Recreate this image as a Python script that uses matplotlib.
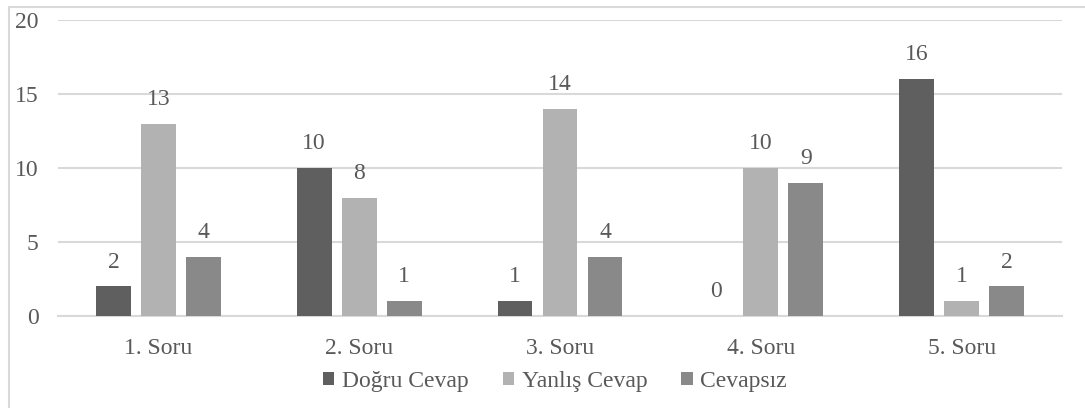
import numpy as np
import matplotlib.pyplot as plt
from matplotlib.patches import Rectangle

questions = ["1. Soru", "2. Soru", "3. Soru", "4. Soru", "5. Soru"]
series_names = ["Doğru Cevap", "Yanlış Cevap", "Cevapsız"]
dogru = [2, 10, 1, 0, 16]
yanlis = [13, 8, 14, 10, 1]
cevapsiz = [4, 1, 4, 9, 2]
y_ticks = [0, 5, 10, 15, 20]

colors = ["#5f5f5f", "#b2b2b2", "#898989"]
text_color = "#595959"
grid_color = "#d9d9d9"

plt.rcParams["font.family"] = ["Liberation Serif", "DejaVu Serif"]
plt.rcParams["font.size"] = 17

fig = plt.figure(figsize=(10.85, 4.08), dpi=100)
ax = fig.add_axes([58 / 1085, 1 - 316 / 408, (1062 - 58) / 1085, (316 - 20) / 408])

x = np.arange(len(questions))
width = 0.174
step = 0.224
for i, (vals, name) in enumerate(zip([dogru, yanlis, cevapsiz], series_names)):
    pos = x + (i - 1) * step
    bars = ax.bar(pos, vals, width, color=colors[i], label=name, zorder=3)
    ax.bar_label(bars, labels=[str(v) for v in vals], padding=10,
                 color=text_color, fontsize=17)

ax.set_xlim(-0.5, len(questions) - 0.5)
ax.set_ylim(0, 20)
ax.set_yticks(y_ticks)
ax.set_xticks(x, questions)
ax.yaxis.grid(True, color=grid_color, linewidth=1.5, zorder=0)
ax.tick_params(axis="y", length=0, pad=14, colors=text_color, labelsize=17)
ax.tick_params(axis="x", length=0, pad=16, colors=text_color, labelsize=17)
for side in ["top", "right", "left"]:
    ax.spines[side].set_visible(False)
ax.spines["bottom"].set_color(grid_color)
ax.spines["bottom"].set_linewidth(1.5)

leg = fig.legend(loc="center", bbox_to_anchor=(555 / 1085, 1 - 381 / 408),
                 ncol=3, frameon=False, fontsize=17, handlelength=0.47,
                 handleheight=0.47, handletextpad=0.33, columnspacing=1.45)
for t in leg.get_texts():
    t.set_color(text_color)

# outer chart frame, clipped by the image edge on the right and bottom
fig.patches.append(Rectangle((9 / 1085, -0.1), 1.2, 1 - 7 / 408 + 0.1,
                             transform=fig.transFigure, fill=False,
                             edgecolor=grid_color, linewidth=1.5))

fig.savefig("out.png", dpi=100)
